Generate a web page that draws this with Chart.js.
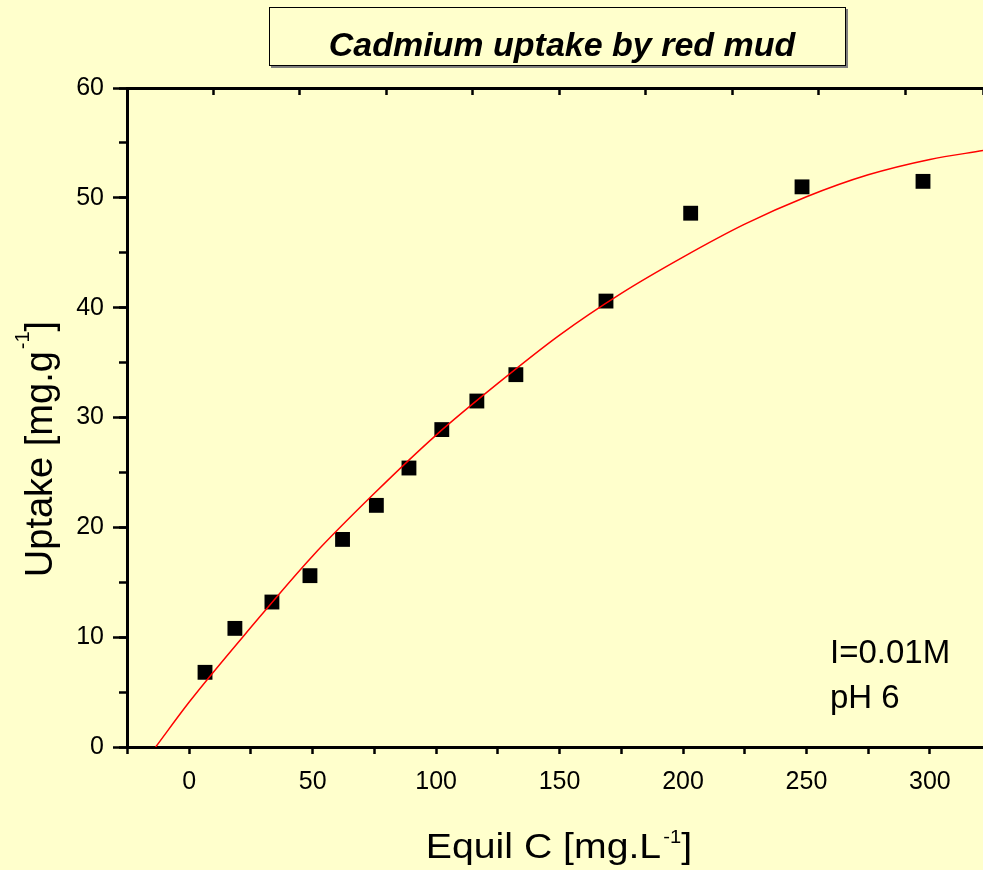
<!DOCTYPE html>
<html>
<head>
<meta charset="utf-8">
<script src="https://cdn.jsdelivr.net/npm/chart.js@4.4.1/dist/chart.umd.min.js"></script>
<style>
  html, body { margin:0; padding:0; background:#ffffcc; }
  #wrap { position:relative; width:983px; height:870px; overflow:hidden; }
  #chart { display:block; }
  #title {
    position:absolute; left:269px; top:7px; width:577px; height:59px;
    box-sizing:border-box; border:1.5px solid #000; box-shadow:2px 2px 0 #7f7f7f;
    font:italic bold 34px 'Liberation Sans', Arial, sans-serif; line-height:38px;
    text-align:center; padding-top:17px; padding-left:9px; white-space:nowrap;
  }
</style>
</head>
<body>
<div id="wrap">
  <canvas id="chart" width="983" height="870"></canvas>
  <div id="title">Cadmium uptake by red mud</div>
</div>
<script>
// measured points
const equilC = [6.4, 18.5, 33.5, 48.9, 62.1, 75.8, 89.0, 102.3, 116.5, 132.3, 168.8, 203.1, 248.2, 297.2];
const uptake = [6.8, 10.8, 13.2, 15.6, 18.9, 22.0, 25.4, 28.9, 31.5, 33.9, 40.6, 48.6, 51.0, 51.5];

// fitted curve
const fitC = [-13.6, 0, 25, 50, 75, 100, 125, 150, 175, 200, 225, 250, 275, 300, 321.5];
const fitUptake = [0, 4.1, 10.9, 17.4, 23.1, 28.4, 33.1, 37.5, 41.3, 44.6, 47.6, 50.1, 52.1, 53.5, 54.3];

const xLabels = [0, 50, 100, 150, 200, 250, 300];
const notes = ['I=0.01M', 'pH 6'];

const family = '"Liberation Sans", Arial, sans-serif';

function drawSup(ctx, base, sup, tail, size, supSize, rise) {
  const f = s => s + 'px ' + family;
  ctx.textBaseline = 'alphabetic';
  ctx.textAlign = 'left';
  ctx.font = f(size);
  const w1 = ctx.measureText(base).width;
  const w3 = ctx.measureText(tail).width;
  ctx.font = f(supSize);
  const w2 = ctx.measureText(sup).width;
  const gap = 2;
  let x = -(w1 + gap + w2 + w3) / 2;
  ctx.font = f(size);
  ctx.fillText(base, x, 0);
  x += w1 + gap;
  ctx.font = f(supSize);
  ctx.fillText(sup, x, -rise);
  x += w2;
  ctx.font = f(size);
  ctx.fillText(tail, x, 0);
}

const textPlugin = {
  id: 'textPlugin',
  afterDraw(chart) {
    const ctx = chart.ctx;
    ctx.save();
    ctx.fillStyle = '#000';

    ctx.save();
    ctx.translate(52, 449);
    ctx.rotate(-Math.PI / 2);
    drawSup(ctx, 'Uptake [mg.g', '-1', ']', 38, 20, 23);
    ctx.restore();

    ctx.save();
    ctx.translate(559, 858);
    ctx.scale(1.12, 1);
    drawSup(ctx, 'Equil C [mg.L', '-1', ']', 35, 18, 15);
    ctx.restore();

    ctx.font = '33px ' + family;
    ctx.textAlign = 'left';
    ctx.textBaseline = 'alphabetic';
    ctx.fillText(notes[0], 830, 663);
    ctx.fillText(notes[1], 830, 708);
    ctx.restore();
  }
};

const tickFont = { size: 25, family: family };

new Chart(document.getElementById('chart'), {
  type: 'scatter',
  data: {
    datasets: [
      {
        type: 'line',
        data: fitC.map((x, i) => ({ x: x, y: fitUptake[i] })),
        borderColor: '#ff0000',
        borderWidth: 1.5,
        pointRadius: 0,
        cubicInterpolationMode: 'monotone',
        fill: false,
        order: 0
      },
      {
        data: equilC.map((x, i) => ({ x: x, y: uptake[i] })),
        pointStyle: 'rect',
        pointRadius: 10.5,
        backgroundColor: '#000',
        borderColor: '#000',
        borderWidth: 0,
        order: 1
      }
    ]
  },
  options: {
    responsive: false,
    animation: false,
    layout: { padding: 0, autoPadding: false },
    plugins: { legend: { display: false }, tooltip: { enabled: false } },
    scales: {
      x: {
        type: 'linear', position: 'bottom', min: -25.2, max: 321.5,
        afterFit: s => { s.height = 123; },
        border: { display: true, color: '#000', width: 3 },
        grid: { drawOnChartArea: false, color: '#000', tickColor: '#000', tickLength: 7, tickWidth: 2.5 },
        ticks: {
          stepSize: 25, includeBounds: false, color: '#000', padding: 13, font: tickFont,
          maxRotation: 0, autoSkip: false,
          callback: v => xLabels.includes(v) ? String(v) : ''
        }
      },
      xTop: {
        type: 'linear', position: 'top', min: 0, max: 9.9,
        afterFit: s => { s.height = 88; },
        border: { display: true, color: '#000', width: 3 },
        grid: { drawOnChartArea: false, color: '#000', tickColor: '#000', tickLength: -7, tickWidth: 2.5 },
        ticks: { display: false, stepSize: 1 }
      },
      y: {
        type: 'linear', position: 'left', min: 0, max: 60, weight: 1,
        afterFit: s => { s.width = 127; },
        border: { display: true, color: '#000', width: 3 },
        grid: { drawOnChartArea: false, color: '#000', tickColor: '#000', tickLength: 14, tickWidth: 2.5 },
        ticks: { stepSize: 10, color: '#000', padding: 9, font: tickFont }
      },
      yMinor: {
        type: 'linear', position: 'left', min: 0, max: 60, weight: 0,
        afterFit: s => { s.width = 0; },
        border: { display: false },
        grid: { drawOnChartArea: false, color: '#000', tickColor: '#000', tickLength: 8, tickWidth: 2.5 },
        ticks: { display: false, stepSize: 5 }
      }
    }
  },
  plugins: [textPlugin]
});
</script>
</body>
</html>
